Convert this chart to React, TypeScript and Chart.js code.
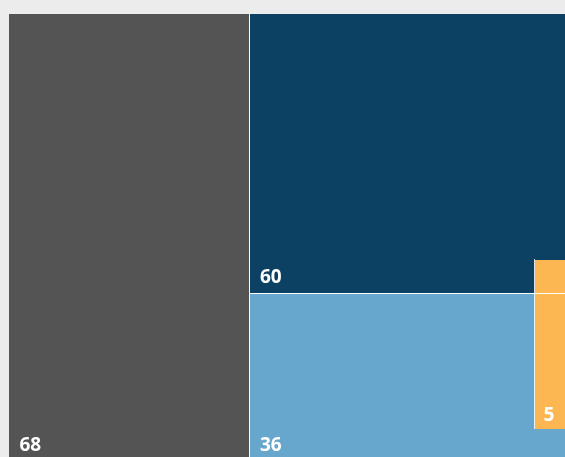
import React, { useEffect, useRef } from "react";
import { Chart, registerables } from "chart.js";

Chart.register(...registerables);

// Treemap cells (main slice-and-dice layout)
const cellLabels = ["68", "60", "36"];
const cellValues = [68, 60, 36];
const cellColors = ["#545454", "#0d4164", "#67a7cd"];
// column membership: first column holds cell 0, second column holds cells 1 and 2
const cellColumns = [0, 1, 1];

// Inset cell (drawn over the second column)
const insetLabel = "5";
const insetValue = 5;
const insetColor = "#fdb752";
// anchor of the inset in fractions of the plot area (left, top, bottom)
const insetAnchor = [0.907, 0.55, 0.928];

const BG = "#ececec";

type Rect = { x0: number; x1: number; y0: number; y1: number; color: string; label: string };

function layout(): Rect[] {
  const total = cellValues.reduce((a, b) => a + b, 0);
  const cols: number[][] = [];
  cellColumns.forEach((c, i) => {
    (cols[c] = cols[c] || []).push(i);
  });
  const rects: Rect[] = [];
  let x = 0;
  cols.forEach((idx) => {
    const colSum = idx.reduce((a, i) => a + cellValues[i], 0);
    const w = colSum / total;
    let y = 0;
    idx.forEach((i) => {
      const h = cellValues[i] / colSum;
      rects.push({ x0: x, x1: x + w, y0: y, y1: y + h, color: cellColors[i], label: cellLabels[i] });
      y += h;
    });
    x += w;
  });
  return rects;
}

export default function App() {
  const ref = useRef<HTMLCanvasElement | null>(null);

  useEffect(() => {
    document.body.style.margin = "0";
    document.body.style.background = BG;
    const canvas = ref.current!;
    const rects = layout();
    const total = cellValues.reduce((a, b) => a + b, 0);

    const treemapPlugin = {
      id: "treemapCells",
      afterDatasetsDraw(chart: any) {
        const ctx = chart.ctx as CanvasRenderingContext2D;
        const xs = chart.scales.x;
        const ys = chart.scales.y;
        const px = (v: number) => xs.getPixelForValue(v);
        const py = (v: number) => ys.getPixelForValue(v);
        ctx.save();
        ctx.font = "bold 19px 'Open Sans'";
        ctx.textBaseline = "alphabetic";
        ctx.textAlign = "left";

        rects.forEach((r) => {
          ctx.fillStyle = r.color;
          ctx.fillRect(px(r.x0), py(r.y0), px(r.x1) - px(r.x0), py(r.y1) - py(r.y0));
        });
        // dividers
        ctx.fillStyle = "#ffffff";
        rects.forEach((r) => {
          if (r.x1 < 1) ctx.fillRect(Math.floor(px(r.x1)), py(0), 1, py(1) - py(0));
        });

        // inset cell
        const [ax, ay0, ay1] = insetAnchor;
        const ih = ay1 - ay0;
        const iw = insetValue / total / ih;
        const ix0 = Math.round(px(ax)), ix1 = px(ax + iw), iy0 = Math.round(py(ay0)), iy1 = Math.round(py(ay1));
        ctx.fillStyle = insetColor;
        ctx.fillRect(ix0, iy0, ix1 - ix0, iy1 - iy0);
        ctx.fillStyle = "rgba(255,255,255,0.85)";
        ctx.fillRect(ix0 - 1, iy0 - 1, 1, iy1 - iy0 + 1);

        // horizontal dividers inside columns (over the inset)
        ctx.fillStyle = "#ffffff";
        rects.forEach((r) => {
          if (r.y1 < 1) ctx.fillRect(Math.floor(px(r.x0)), Math.floor(py(r.y1)), px(r.x1) - px(r.x0) + 1, 1);
        });

        // labels
        ctx.fillStyle = "#ffffff";
        rects.forEach((r) => {
          ctx.fillText(r.label, px(r.x0) + 10.5, py(r.y1) - 10);
        });
        ctx.fillText(insetLabel, ix0 + 8.5, iy1 - 8);
        ctx.restore();
      },
    };

    const chart = new Chart(canvas, {
      type: "scatter",
      data: { datasets: [{ data: [], showLine: false }] },
      options: {
        animation: false,
        responsive: false,
        events: [],
        layout: { padding: { left: 9, top: 14, right: 11, bottom: 9 } },
        plugins: { legend: { display: false }, tooltip: { enabled: false } },
        scales: {
          x: { type: "linear", min: 0, max: 1, display: false },
          y: { type: "linear", min: 0, max: 1, reverse: true, display: false },
        },
      },
      plugins: [treemapPlugin],
    });
    return () => chart.destroy();
  }, []);

  return <canvas ref={ref} width={600} height={470} style={{ display: "block", background: BG }} />;
}
